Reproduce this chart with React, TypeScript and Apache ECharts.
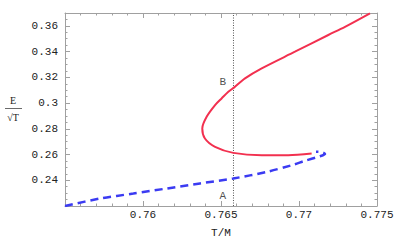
import React, { useEffect, useRef } from "react";
import * as echarts from "echarts";

const redX = [0.77455, 0.77295, 0.77188, 0.76974, 0.76761, 0.76654, 0.76585, 0.76547, 0.76504, 0.76462, 0.76408, 0.7638, 0.76397, 0.76462, 0.76579, 0.76761, 0.76931, 0.77081];
const redY = [0.3698, 0.3593, 0.3529, 0.3399, 0.327, 0.3192, 0.3122, 0.3088, 0.3036, 0.2984, 0.2893, 0.2803, 0.2725, 0.266, 0.2613, 0.2595, 0.2595, 0.2608];
const blueX = [0.755, 0.75724, 0.75938, 0.76152, 0.76365, 0.76579, 0.76793, 0.76953, 0.77038, 0.77135, 0.77167, 0.77145, 0.77109];
const blueY = [0.22, 0.2258, 0.2297, 0.2336, 0.2375, 0.2414, 0.2465, 0.2517, 0.2551, 0.2587, 0.2605, 0.2619, 0.2622];
const markX = 0.7658;
const xTicks = { min: 0.755, max: 0.775, interval: 0.005 };
const yTicks = { min: 0.22, max: 0.37, interval: 0.02 };
const pointLabels = [
  { name: "B", x: 0.7655, y: 0.3167 },
  { name: "A", x: 0.7655, y: 0.2277 },
];

const mono = "'Liberation Mono', 'DejaVu Sans Mono', monospace";
const frame = "#a0a0a0";

export default function App() {
  const ref = useRef<HTMLDivElement>(null);
  useEffect(() => {
    document.body.style.margin = "0";
    document.body.style.overflow = "hidden";
    if (!ref.current) return;
    const chart = echarts.init(ref.current, undefined, { renderer: "svg" });
    const axisCommon = {
      type: "value" as const,
      axisLine: { show: true, onZero: false, lineStyle: { color: frame, width: 1 } },
      axisTick: { show: true, inside: true, length: 5, lineStyle: { color: frame } },
      minorTick: { show: true, length: 2.5, lineStyle: { color: frame } },
      splitLine: { show: false },
    };
    const txt = { fontFamily: mono, fontSize: 11, color: "#222" };
    chart.setOption({
      animation: false,
      backgroundColor: "#fff",
      textStyle: { fontFamily: mono },
      grid: { left: 65, right: 20, top: 13, bottom: 40, containLabel: false },
      xAxis: [
        {
          ...axisCommon,
          ...xTicks,
          minorTick: { ...axisCommon.minorTick, splitNumber: 5 },
          name: "T/M",
          nameLocation: "middle",
          nameGap: 21,
          nameTextStyle: txt,
          axisLabel: { showMinLabel: false, showMaxLabel: true, margin: 3, ...txt },
        },
        {
          ...axisCommon,
          ...xTicks,
          position: "top",
          minorTick: { ...axisCommon.minorTick, splitNumber: 5 },
          axisLabel: { show: false },
        },
      ],
      yAxis: [
        {
          ...axisCommon,
          ...yTicks,
          minorTick: { ...axisCommon.minorTick, splitNumber: 4 },
          axisLabel: { showMinLabel: false, showMaxLabel: false, margin: 7, ...txt },
        },
        {
          ...axisCommon,
          ...yTicks,
          position: "right",
          minorTick: { ...axisCommon.minorTick, splitNumber: 4 },
          axisLabel: { show: false },
        },
      ],
      series: [
        {
          type: "line",
          data: [[markX, yTicks.min], [markX, yTicks.max]],
          symbol: "none",
          lineStyle: { color: "#555", width: 1, type: [1, 1.5] },
          silent: true,
          z: 1,
        },
        {
          type: "line",
          data: blueX.map((x, i) => [x, blueY[i]]),
          symbol: "none",
          smooth: 0.3,
          clip: true,
          lineStyle: { color: "#3b3bf2", width: 2.5, type: [8, 5] },
          z: 2,
        },
        {
          type: "line",
          data: redX.map((x, i) => [x, redY[i]]),
          symbol: "none",
          smooth: 0.3,
          clip: true,
          lineStyle: { color: "#f2304f", width: 2 },
          z: 3,
        },
        {
          type: "scatter",
          data: pointLabels.map((p) => ({ value: [p.x, p.y], name: p.name })),
          symbolSize: 0,
          silent: true,
          label: {
            show: true,
            formatter: (p: any) => p.name,
            position: "inside",
            offset: [-6, 0],
            ...txt,
          },
        },
      ],
      graphic: [
        { type: "text", x: 13, y: 100, style: { text: "E", fontFamily: "Liberation Serif", fontSize: 10, fill: "#222", align: "center", verticalAlign: "middle" } },
        { type: "line", shape: { x1: 5, y1: 108.5, x2: 22, y2: 108.5 }, style: { stroke: "#444", lineWidth: 0.8 } },
        { type: "text", x: 13, y: 117, style: { text: "√T", fontFamily: "Liberation Serif", fontSize: 10, fill: "#222", align: "center", verticalAlign: "middle" } },
      ],
    });
    return () => chart.dispose();
  }, []);
  return <div ref={ref} style={{ width: 397, height: 246 }} />;
}
